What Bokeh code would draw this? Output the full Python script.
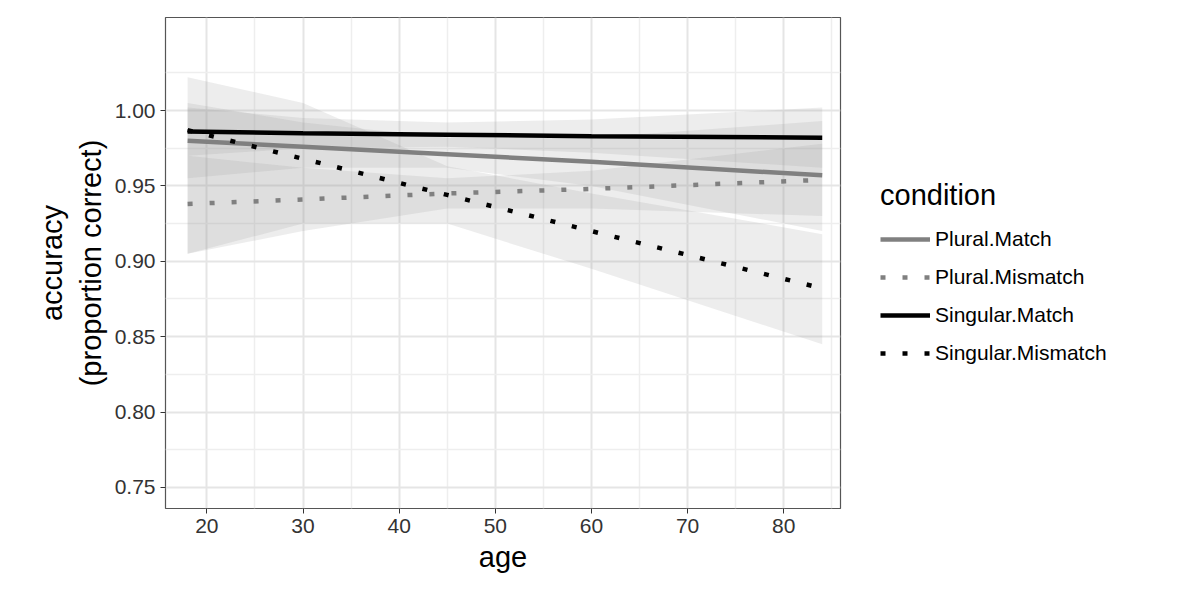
from bokeh.plotting import figure
from bokeh.models import Legend, LegendItem, Label, FixedTicker, CustomJSTickFormatter
from bokeh.embed import file_html
from bokeh.resources import INLINE

ages = [18, 30, 45, 60, 84]
conditions = ["Plural.Match", "Plural.Mismatch", "Singular.Match", "Singular.Mismatch"]
fit = {
    "Plural.Match":      [0.980, 0.976, 0.971, 0.966, 0.957],
    "Plural.Mismatch":   [0.938, 0.941, 0.945, 0.948, 0.954],
    "Singular.Match":    [0.986, 0.985, 0.984, 0.983, 0.982],
    "Singular.Mismatch": [0.987, 0.968, 0.944, 0.920, 0.882],
}
lower = {
    "Plural.Match":      [0.955, 0.962, 0.962, 0.950, 0.920],
    "Plural.Mismatch":   [0.905, 0.920, 0.935, 0.935, 0.930],
    "Singular.Match":    [0.970, 0.975, 0.976, 0.972, 0.962],
    "Singular.Mismatch": [0.905, 0.925, 0.925, 0.895, 0.845],
}
upper = {
    "Plural.Match":      [1.005, 0.992, 0.982, 0.982, 0.993],
    "Plural.Mismatch":   [0.970, 0.962, 0.955, 0.960, 0.978],
    "Singular.Match":    [1.002, 0.995, 0.992, 0.994, 1.002],
    "Singular.Mismatch": [1.022, 1.005, 0.963, 0.945, 0.918],
}
colors = {"Plural.Match": "#808080", "Plural.Mismatch": "#808080",
          "Singular.Match": "#000000", "Singular.Mismatch": "#000000"}
dashes = {"Plural.Match": "solid", "Plural.Mismatch": "5 17",
          "Singular.Match": "solid", "Singular.Mismatch": "5 17"}

p = figure(frame_width=675, frame_height=491, output_backend="svg", toolbar_location=None,
           x_range=(15.7, 85.9), y_range=(0.736, 1.0617),
           min_border_left=165, min_border_right=20, min_border_top=17, min_border_bottom=80)
p.background_fill_color = "white"
p.outline_line_color = "#555555"
p.outline_line_width = 1.2

for c in conditions:
    p.varea(x=ages, y1=lower[c], y2=upper[c], fill_color="#999999", fill_alpha=0.18)

items = []
for c in conditions:
    r = p.line(ages, fit[c], line_color=colors[c], line_width=4.5, line_dash=dashes[c])
    items.append(LegendItem(label=c, renderers=[r]))

p.xaxis.ticker = FixedTicker(ticks=[20, 30, 40, 50, 60, 70, 80],
                             minor_ticks=[15, 25, 35, 45, 55, 65, 75, 85])
p.yaxis.ticker = FixedTicker(ticks=[0.75, 0.80, 0.85, 0.90, 0.95, 1.00],
                             minor_ticks=[0.725, 0.775, 0.825, 0.875, 0.925, 0.975, 1.025, 1.075])
p.yaxis.formatter = CustomJSTickFormatter(code="return tick.toFixed(2);")
for ax in (p.xaxis, p.yaxis):
    ax.major_label_text_font_size = "21px"
    ax.major_label_text_color = "#333333"
    ax.major_label_text_font = "Liberation Sans"
    ax.axis_label_text_font = "Liberation Sans"
    ax.axis_label_text_font_size = "29px"
    ax.axis_label_text_font_style = "normal"
    ax.axis_label_text_color = "#000000"
    ax.axis_line_color = None
    ax.major_tick_line_color = "#333333"
    ax.minor_tick_line_color = None
    ax.major_tick_out = 5
    ax.major_tick_in = 0
p.xaxis.axis_label = "age"
p.yaxis.axis_label = "accuracy\n(proportion correct)"
p.xgrid.grid_line_color = "#e5e5e5"
p.ygrid.grid_line_color = "#e5e5e5"
p.xgrid.grid_line_width = 2
p.ygrid.grid_line_width = 2
p.xgrid.minor_grid_line_color = "#eeeeee"
p.ygrid.minor_grid_line_color = "#eeeeee"
p.xgrid.minor_grid_line_width = 1.5
p.ygrid.minor_grid_line_width = 1.5

legend = Legend(items=items, location=(40, 140), title="condition",
                title_text_font_size="29px", title_text_font="Liberation Sans",
                title_text_font_style="normal", title_text_color="#000000",
                label_text_font_size="21px", label_text_font="Liberation Sans",
                label_text_color="#000000",
                glyph_width=50, glyph_height=30, label_height=30, spacing=8,
                border_line_color=None, background_fill_color="white",
                title_standoff=12, padding=0)
p.add_layout(legend, "right")

lab = Label(x=22, y=535, x_units="screen", y_units="screen", text="B)",
            text_font_size="24px", text_font="Liberation Sans")
p.add_layout(lab)

open("out.html", "w").write(file_html(p, INLINE))
